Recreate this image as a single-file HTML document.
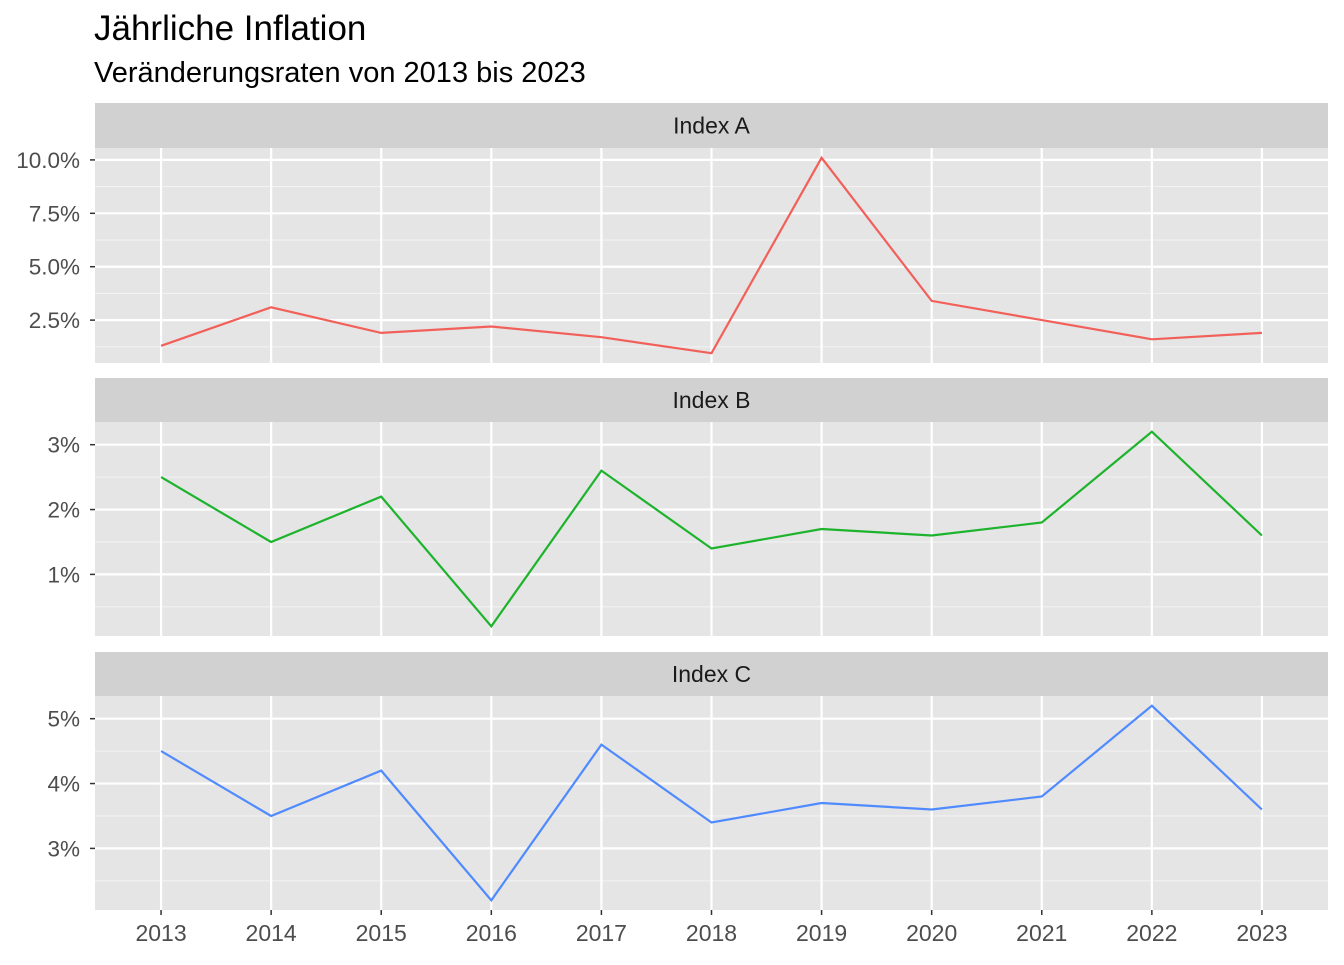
<!DOCTYPE html>
<html><head><meta charset="utf-8"><style>
body{margin:0;background:#fff;font-family:"Liberation Sans",Arial,sans-serif}
</style></head><body>
<svg id="chart" width="1344" height="960" xmlns="http://www.w3.org/2000/svg" font-family="Liberation Sans, Arial, sans-serif">
<text x="94" y="40" font-size="35" fill="#000">Jährliche Inflation</text>
<text x="94" y="82" font-size="29" fill="#000">Veränderungsraten von 2013 bis 2023</text>
</svg>
<script>
const years=[2013,2014,2015,2016,2017,2018,2019,2020,2021,2022,2023];
const seriesA=[1.3,3.1,1.9,2.2,1.7,0.95,10.1,3.4,2.5,1.6,1.9];
const seriesB=[2.5,1.5,2.2,0.2,2.6,1.4,1.7,1.6,1.8,3.2,1.6];
const seriesC=[4.5,3.5,4.2,2.2,4.6,3.4,3.7,3.6,3.8,5.2,3.6];
const ticksA=[2.5,5,7.5,10];
const tickLabelsA=["2.5%","5.0%","7.5%","10.0%"];
const ticksB=[1,2,3];
const tickLabelsB=["1%","2%","3%"];
const ticksC=[3,4,5];
const tickLabelsC=["3%","4%","5%"];
const panelNames=["Index A","Index B","Index C"];

const svg=document.getElementById('chart');
const NS='http://www.w3.org/2000/svg';
function mk(t,a,p){const e=document.createElementNS(NS,t);for(const k in a)e.setAttribute(k,a[k]);(p||svg).appendChild(e);return e;}
const X0=95,X1=1328;
const xmin=years[0]-0.6,xmax=years[years.length-1]+0.6;
const xs=v=>X0+(v-xmin)/(xmax-xmin)*(X1-X0);
const panels=[
 {s:seriesA,t:ticksA,l:tickLabelsA,strip:103,top:148,bot:363,col:'#f2605a'},
 {s:seriesB,t:ticksB,l:tickLabelsB,strip:378,top:422,bot:636,col:'#1db32c'},
 {s:seriesC,t:ticksC,l:tickLabelsC,strip:652,top:696,bot:910,col:'#4f8bff'}
];
panels.forEach((p,i)=>{
 const mn=Math.min(...p.s),mx=Math.max(...p.s),ex=(mx-mn)*0.05;
 const lo=mn-ex,hi=mx+ex;
 const ys=v=>p.bot-(v-lo)/(hi-lo)*(p.bot-p.top);
 const g=mk('g',{});
 
 
 const st=mk('rect',{x:X0,y:p.strip,width:X1-X0,height:p.top-p.strip,fill:'#d1d1d1'},g);
 
 
 const stt=mk('text',{x:(X0+X1)/2,y:(p.strip+p.top)/2+8,'font-size':'23','text-anchor':'middle',fill:'#1a1a1a'},g);
 stt.textContent=panelNames[i];
 
 
 const bg=mk('rect',{x:X0,y:p.top,width:X1-X0,height:p.bot-p.top,fill:'#e5e5e5'},g);
 
 
 const step=p.t[1]-p.t[0];
 for(let v=p.t[0]-step*1.5;v<=hi;v+=step){ if(v>=lo){const y=ys(v);const m=mk('line',{x1:X0,x2:X1,y1:y,y2:y,stroke:'#f2f2f2','stroke-width':1.1},g);
  
  }}
 p.t.forEach((v,j)=>{const y=ys(v);
  const gl=mk('line',{x1:X0,x2:X1,y1:y,y2:y,stroke:'#fff','stroke-width':2.2},g);
  
  
  mk('line',{x1:X0-5,x2:X0,y1:y,y2:y,stroke:'#333','stroke-width':1.5},g);
  const tl=mk('text',{x:X0-15,y:y+8,'font-size':'22.5','text-anchor':'end',fill:'#4d4d4d'},g);
  tl.textContent=p.l[j];
  
  
 });
 years.forEach(yr=>{const x=xs(yr);
  const vl=mk('line',{x1:x,x2:x,y1:p.top,y2:p.bot,stroke:'#fff','stroke-width':2.2},g);
  
  });
 const pts=p.s.map((v,k)=>xs(years[k]).toFixed(1)+','+ys(v).toFixed(1)).join(' ');
 const ln=mk('polyline',{points:pts,fill:'none',stroke:p.col,'stroke-width':2.2},g);
 
 
});
years.forEach(yr=>{const x=xs(yr);
 mk('line',{x1:x,x2:x,y1:910,y2:915,stroke:'#333','stroke-width':1.5});
 const t=mk('text',{x:x,y:941,'font-size':'23','text-anchor':'middle',fill:'#4d4d4d'});
 t.textContent=yr;
 
 
});
</script>
</body></html>
